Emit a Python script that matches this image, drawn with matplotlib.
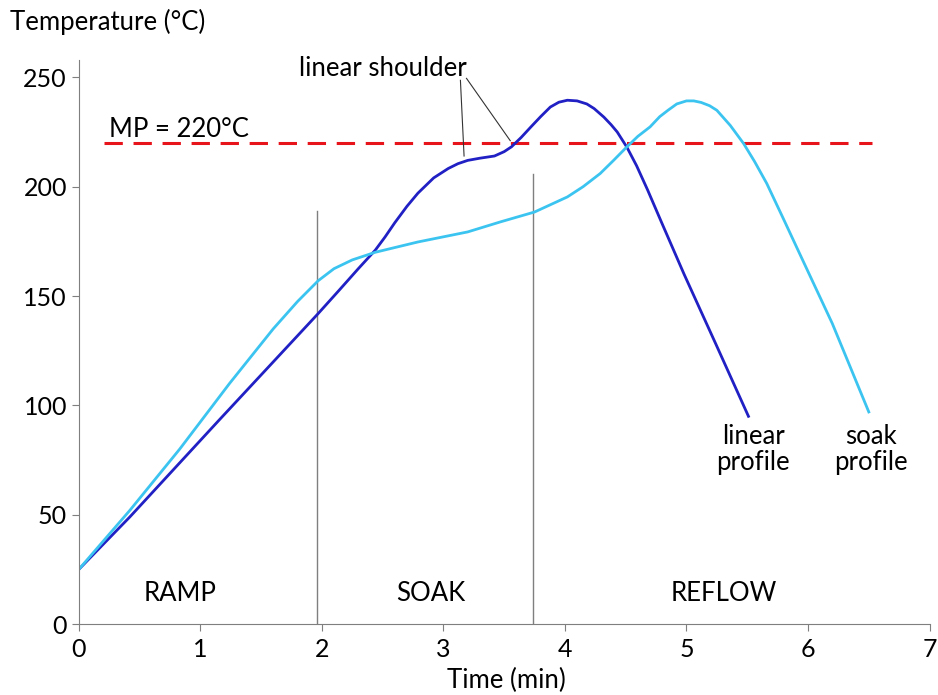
import matplotlib.pyplot as plt

plt.rcParams['font.family'] = ['Lato', 'DejaVu Sans']

# linear profile (dark blue)
lin_t = [0, 0.42, 1.15, 1.97, 2.14, 2.30, 2.44, 2.52, 2.60, 2.70, 2.79, 2.92, 3.04,
         3.12, 3.20, 3.30, 3.42, 3.50, 3.56, 3.64, 3.72, 3.80, 3.88, 3.95, 4.02,
         4.10, 4.18, 4.24, 4.32, 4.38, 4.43, 4.51, 4.59, 4.68, 4.80, 4.98, 5.25, 5.51]
lin_T = [25, 49, 93, 142, 152.5, 162.5, 171, 177, 183.5, 191, 197, 204, 208.3,
         210.5, 212, 213, 214, 216, 218.2, 222.5, 227.3, 232, 236.4, 238.6, 239.5,
         239.2, 237.8, 235.7, 231.8, 228.3, 225, 218, 209.5, 198.5, 183, 160, 127, 95]

# soak profile (light blue)
soak_t = [0, 0.42, 0.83, 1.24, 1.60, 1.80, 1.97, 2.10, 2.25, 2.44, 2.79, 3.20, 3.47,
          3.75, 4.02, 4.15, 4.29, 4.40, 4.51, 4.60, 4.70, 4.78, 4.85, 4.92, 5.00,
          5.06, 5.12, 5.19, 5.25, 5.36, 5.47, 5.56, 5.66, 5.80, 5.93, 6.20, 6.50]
soak_T = [25, 52, 80, 110, 135, 147.5, 157, 162.5, 166.5, 170, 174.7, 179.3, 183.9,
          188.4, 195.3, 200, 206, 212, 218.2, 223, 227.3, 232, 235, 237.8, 239.2,
          239.2, 238.5, 237, 234.9, 228, 219.7, 211.5, 201.5, 185, 169.5, 137.4, 97]

phase_bounds = [1.96, 3.74]
phase_tops = [189, 206]
phase_names = ['RAMP', 'SOAK', 'REFLOW']
phase_x = [0.83, 2.9, 5.31]
mp = 220

fig = plt.figure(figsize=(9.38, 6.95), dpi=100)
ax = fig.add_axes([0.084, 0.102, 0.907, 0.812])

for xb, top in zip(phase_bounds, phase_tops):
    ax.plot([xb, xb], [0, top], color='#7f7f7f', lw=1)

ax.plot([0.21, 6.53], [mp, mp], color='#e8141c', lw=2.2, dashes=(6, 3.5))
ax.plot(lin_t, lin_T, color='#2020c4', lw=2)
ax.plot(soak_t, soak_T, color='#3cc4f0', lw=2)

fs = 18.5
ax.text(0.25, 226, 'MP = 220°C', fontsize=fs, ha='left', va='center')
ax.text(2.5, 254, 'linear shoulder', fontsize=fs, ha='center', va='center')
ax.plot([3.14, 3.17], [248.6, 214], color='#333333', lw=0.8)
ax.plot([3.19, 3.55], [249.5, 221], color='#333333', lw=0.8)

for name, xp in zip(phase_names, phase_x):
    ax.text(xp, 14, name, fontsize=fs, ha='center', va='center')

ax.text(5.55, 80, 'linear\nprofile', fontsize=fs, ha='center', va='center', linespacing=1.05)
ax.text(6.52, 80, 'soak\nprofile', fontsize=fs, ha='center', va='center', linespacing=1.05)

ax.set_xlim(0, 7)
ax.set_ylim(0, 258)
ax.set_xticks(range(0, 8))
ax.set_yticks(range(0, 251, 50))
ax.tick_params(labelsize=18, color='#7f7f7f', length=5)
ax.tick_params(axis='x', pad=5)
for s in ['top', 'right']:
    ax.spines[s].set_visible(False)
for s in ['left', 'bottom']:
    ax.spines[s].set_color('#7f7f7f')

fig.text(0.011, 0.968, 'Temperature (°C)', fontsize=fs, ha='left', va='center')
fig.text(0.54, 0.021, 'Time (min)', fontsize=fs, ha='center', va='center')

fig.savefig('out.png', dpi=100)
